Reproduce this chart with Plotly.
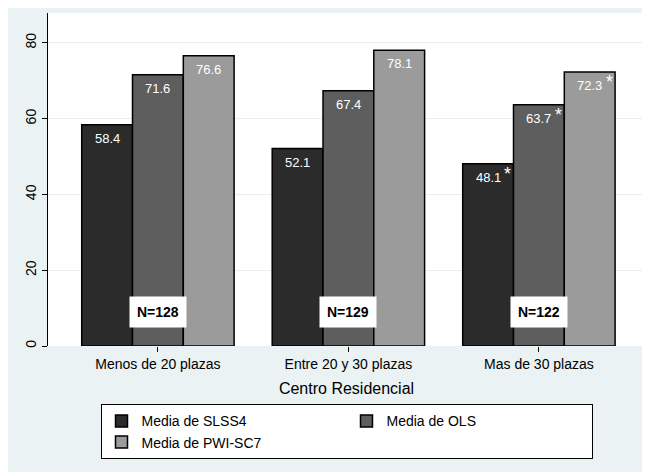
import plotly.graph_objects as go

centros = ['Menos de 20 plazas', 'Entre 20 y 30 plazas', 'Mas de 30 plazas']
slss4 = [58.4, 52.1, 48.1]
ols = [71.6, 67.4, 63.7]
pwi = [76.6, 78.1, 72.3]
n_labels = ['N=128', 'N=129', 'N=122']
signif = [False, False, True]

series = [
    ('Media de SLSS4', slss4, '#2b2b2b'),
    ('Media de OLS', ols, '#5e5e5e'),
    ('Media de PWI-SC7', pwi, '#9b9b9b'),
]

fig = go.Figure()
for name, vals, col in series:
    fig.add_trace(go.Bar(x=list(range(3)), y=vals, name=name, marker_color=col,
                         marker_line_color='black', marker_line_width=1.5))

bw = 0.8 / 3
anns = []
for j, (name, vals, col) in enumerate(series):
    for i, v in enumerate(vals):
        xp = i + (j - 1) * bw
        anns.append(dict(x=xp, y=v, text=f'{v:.1f}', showarrow=False, yanchor='top',
                         yshift=-4, font=dict(color='white', size=13)))
        if signif[i]:
            anns.append(dict(x=xp + bw * 0.38, y=v, text='*', showarrow=False, yanchor='top',
                             yshift=2, font=dict(color='white', size=18)))
for i, t in enumerate(n_labels):
    anns.append(dict(x=i, y=9, text='<b>' + t + '</b>', showarrow=False, bgcolor='white',
                     borderpad=7, font=dict(color='black', size=14)))

fig.update_layout(
    width=650, height=472,
    margin=dict(l=40, r=13, t=5, b=134),
    paper_bgcolor='#eaf2f3', plot_bgcolor='white',
    font=dict(family='Liberation Sans, Arial', size=14, color='black'),
    barmode='group', bargap=0.2, bargroupgap=0,
    annotations=anns,
    showlegend=True,
    legend=dict(orientation='h', x=0.5, xanchor='center', y=-0.175, yanchor='top',
                bgcolor='white', bordercolor='black', borderwidth=1,
                entrywidth=200, font=dict(size=14), tracegroupgap=0),
)
fig.update_xaxes(tickvals=list(range(3)), ticktext=centros, range=[-0.577, 2.557],
                 showline=False, ticks='outside', ticklen=5, tickcolor='black', automargin=False,
                 title=dict(text='Centro Residencial', font=dict(size=16), standoff=12))
fig.update_yaxes(range=[0, 87.9], tickvals=[0, 20, 40, 60, 80], tickangle=-90, automargin=False,
                 showgrid=True, gridcolor='#e6eef0', zeroline=False,
                 showline=True, linecolor='black', ticks='outside', ticklen=5, tickcolor='black')

fig.write_html('out.html')
